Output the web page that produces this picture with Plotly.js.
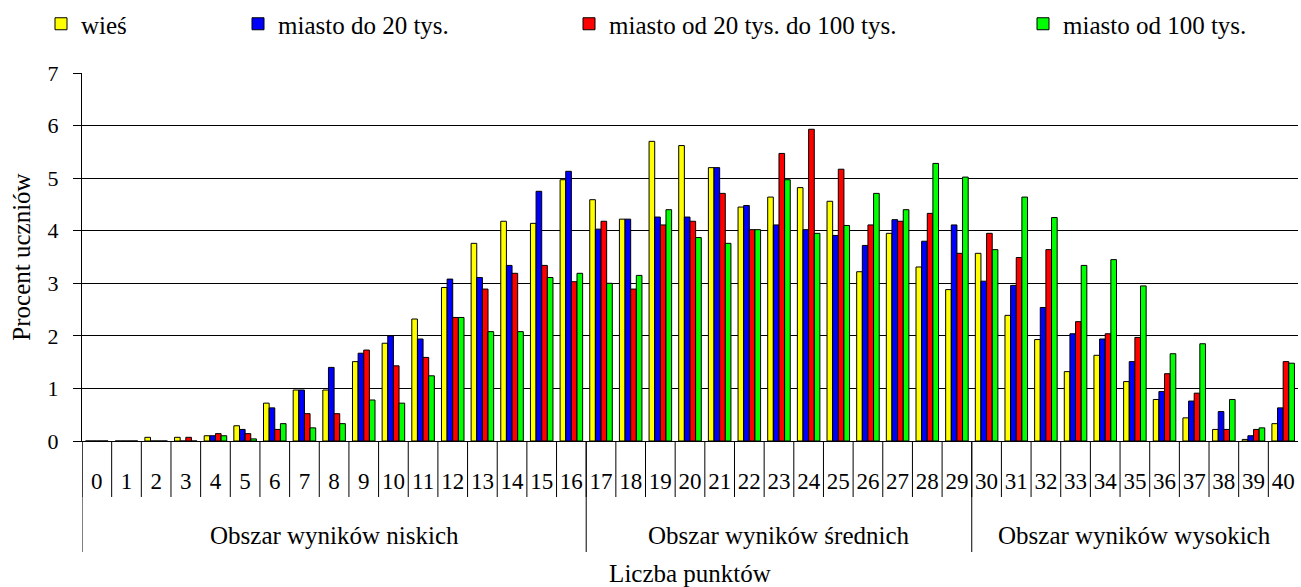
<!DOCTYPE html>
<html>
<head>
<meta charset="utf-8">
<script src="https://cdn.plot.ly/plotly-3.0.1.min.js"></script>
<style>html,body{margin:0;padding:0;background:#fff;}#chart{width:1301px;height:587px;}</style>
</head>
<body>
<div id="chart"></div>
<script>
// ---- data ----
const categories = ["0","1","2","3","4","5","6","7","8","9","10","11","12","13","14","15","16","17","18","19","20","21","22","23","24","25","26","27","28","29","30","31","32","33","34","35","36","37","38","39","40"];
const seriesNames = ["wieś", "miasto do 20 tys.", "miasto od 20 tys. do 100 tys.", "miasto od 100 tys."];
const wies = [0,0,0.07,0.07,0.10,0.29,0.72,0.97,0.97,1.51,1.86,2.32,2.92,3.76,4.18,4.14,4.97,4.59,4.22,5.70,5.62,5.20,4.45,4.64,4.82,4.56,3.22,3.95,3.31,2.88,3.57,2.39,1.93,1.32,1.63,1.13,0.79,0.44,0.22,0.03,0.33];
const miastoDo20 = [0,0,0,0,0.10,0.22,0.63,0.97,1.40,1.67,2.00,1.94,3.08,3.11,3.34,4.75,5.13,4.03,4.22,4.26,4.26,5.20,4.48,4.11,4.02,3.91,3.72,4.21,3.80,4.11,3.04,2.96,2.54,2.04,1.94,1.51,0.94,0.76,0.56,0.10,0.63];
const miasto20do100 = [0,0,0,0.07,0.14,0.14,0.22,0.52,0.52,1.73,1.43,1.59,2.35,2.89,3.19,3.34,3.03,4.18,2.89,4.11,4.18,4.71,4.02,5.47,5.93,5.17,4.11,4.18,4.33,3.57,3.95,3.49,3.64,2.27,2.04,1.97,1.28,0.91,0.22,0.22,1.51];
const miastoOd100 = [0,0,0,0,0.10,0.04,0.33,0.25,0.33,0.78,0.72,1.24,2.35,2.08,2.08,3.11,3.19,3.00,3.15,4.40,3.87,3.76,4.02,4.97,3.95,4.10,4.71,4.40,5.28,5.02,3.64,4.64,4.25,3.34,3.45,2.95,1.66,1.85,0.79,0.25,1.48];
const groupLabels = ["Obszar wyników niskich", "Obszar wyników średnich", "Obszar wyników wysokich"];
const groupStart = [0, 17, 30];
const groupEnd = [16, 29, 40];
const yTickVals = [0,1,2,3,4,5,6,7];

// ---- styles ----
const FONT = "Liberation Serif";
const colors = ["#FFFF00", "#0000FF", "#FF0000", "#00FF00"];
const legendIds = ["legend", "legend2", "legend3", "legend4"];
const legendX = [41, 238, 569, 1023];
const seriesValues = [wies, miastoDo20, miasto20do100, miastoOd100];

const traces = seriesValues.map((vals, i) => ({
  type: "bar",
  name: seriesNames[i],
  x: categories,
  y: vals,
  legend: legendIds[i],
  marker: {color: colors[i], line: {color: "#000", width: 1}},
  hoverinfo: "x+y+name"
}));

// px helpers -> paper coords (plot area 73..441)
const plotTop = 73, plotBottom = 441, plotH = plotBottom - plotTop;
const py = p => -(p - plotBottom) / plotH;

const shapes = [];
for (let k = 0; k < categories.length; k++) {
  shapes.push({type: "line", xref: "x", yref: "paper", x0: k - 0.5, x1: k - 0.5, y0: 0, y1: py(497), line: {color: "#000", width: 1}});
}
groupStart.forEach(s => {
  shapes.push({type: "line", xref: "x", yref: "paper", x0: s - 0.5, x1: s - 0.5, y0: 0, y1: py(552), line: {color: "#000", width: 1}});
});

const annotations = groupLabels.map((g, i) => ({
  text: g, xref: "x", yref: "paper", x: (groupStart[i] + groupEnd[i]) / 2, y: py(535),
  xanchor: "center", yanchor: "middle", showarrow: false, font: {family: FONT, size: 25, color: "#000"}
}));

const layout = {
  width: 1301, height: 587,
  margin: {l: 82, r: 3, t: plotTop, b: 587 - plotBottom},
  paper_bgcolor: "#fff", plot_bgcolor: "#fff",
  font: {family: FONT, size: 23, color: "#000"},
  barmode: "group", bargap: 0.24, bargroupgap: 0,
  xaxis: {
    type: "category", range: [-0.5, 40.5], showline: true, linecolor: "#000", linewidth: 1,
    ticks: "", showgrid: false, zeroline: false, tickangle: 0,
    tickfont: {family: FONT, size: 23, color: "#000"}, ticklabelstandoff: 19,
    title: {text: "Liczba punktów", font: {family: FONT, size: 25, color: "#000"}, standoff: 73},
    automargin: false, fixedrange: true
  },
  yaxis: {
    range: [0, 7], tickvals: yTickVals, ticks: "outside", ticklen: 8, tickcolor: "#000", tickwidth: 1,
    showline: true, linecolor: "#000", linewidth: 1, showgrid: true, gridcolor: "#000", gridwidth: 1,
    zeroline: true, zerolinecolor: "#000", zerolinewidth: 1,
    tickfont: {family: FONT, size: 22, color: "#000"}, ticklabelstandoff: 10,
    title: {text: "Procent uczniów", font: {family: FONT, size: 25, color: "#000"}, standoff: 9},
    automargin: false, fixedrange: true
  },
  shapes: shapes,
  annotations: annotations,
  showlegend: true
};
legendIds.forEach((id, i) => {
  layout[id] = {
    orientation: "h", xref: "container", yref: "container",
    x: legendX[i] / 1301, y: 1 - 24 / 587, xanchor: "left", yanchor: "middle",
    bgcolor: "rgba(0,0,0,0)", borderwidth: 0,
    font: {family: FONT, size: 25, color: "#000"}
  };
});

Plotly.newPlot("chart", traces, layout, {displayModeBar: false, staticPlot: true});
</script>
</body>
</html>
